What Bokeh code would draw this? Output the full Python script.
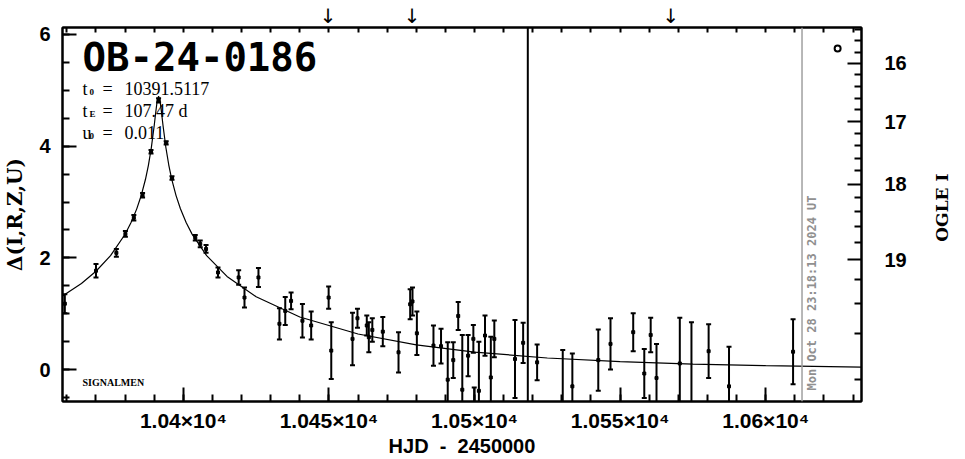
import math
from bokeh.plotting import figure
from bokeh.models import (Range1d, LinearAxis, FixedTicker, SingleIntervalTicker,
                          CustomJSTickFormatter, Label, Span)
from bokeh.embed import file_html
from bokeh.resources import INLINE

# ---------------- data ----------------
hjd = [10359.3, 10370.0, 10377.0, 10380.1, 10383.0, 10386.0, 10388.9, 10391.5, 10394.1, 10396.1,
       10404.1, 10405.8, 10407.8, 10411.9, 10419.0, 10421.0, 10425.8, 10433.0, 10435.0, 10437.0,
       10440.9, 10443.9, 10449.9, 10450.8, 10458.1, 10459.8, 10463.0, 10463.7, 10464.9, 10468.5,
       10473.9, 10477.9, 10478.7, 10480.2, 10485.9, 10488.5, 10490.8, 10492.7, 10494.4, 10495.8,
       10497.8, 10499.6, 10499.9, 10501.5, 10503.6, 10505.6, 10506.8, 10513.9, 10516.7, 10521.5,
       10530.3, 10533.6, 10542.5, 10546.7, 10554.5, 10558.3, 10560.5, 10562.5, 10570.5, 10574.5,
       10580.4, 10587.4, 10609.4]
delta = [1.18, 1.77, 2.09, 2.43, 2.72, 3.12, 3.90, 4.82, 4.06, 3.43,
         2.36, 2.25, 2.16, 1.74, 1.65, 1.29, 1.65, 0.82, 1.05, 1.23,
         0.875, 0.79, 1.29, 0.34, 0.55, 0.92, 0.79, 0.58, 0.71, 0.68,
         0.31, 1.17, 1.22, 0.65, 0.43, 0.42, -0.18, 0.17, 0.96, -0.36,
         0.25, 0.55, -0.80, -0.38, 0.61, -0.14, 0.55, 0.19, 0.48, 0.13,
         -0.60, -0.30, 0.17, 0.46, 0.67, -0.07, 0.62, -0.15, 0.11, -0.60,
         0.33, -0.30, 0.32]
err = [0.17, 0.12, 0.07, 0.05, 0.05, 0.04, 0.03, 0.04, 0.03, 0.03,
       0.05, 0.06, 0.07, 0.09, 0.13, 0.18, 0.17, 0.28, 0.25, 0.15,
       0.30, 0.25, 0.20, 0.51, 0.47, 0.17, 0.18, 0.27, 0.21, 0.26,
       0.36, 0.27, 0.25, 0.39, 0.36, 0.31, 0.67, 0.32, 0.25, 0.98,
       0.37, 0.25, 0.48, 0.88, 0.36, 0.73, 0.33, 0.70, 0.36, 0.32,
       0.95, 0.59, 0.55, 0.46, 0.34, 0.44, 0.31, 0.61, 0.82, 1.45,
       0.48, 0.71, 0.58]

model_hjd = [10358.5, 10365, 10370, 10375, 10380, 10382, 10384, 10385.5, 10387, 10388,
             10389, 10390, 10390.5, 10391, 10391.5, 10392, 10392.5, 10393, 10394, 10395,
             10396, 10397.5, 10399, 10401, 10403, 10408, 10415, 10425, 10440, 10460,
             10480, 10500, 10525, 10550, 10575, 10600, 10632.9]
model_delta = [1.318, 1.543, 1.761, 2.040, 2.424, 2.628, 2.878, 3.112, 3.408, 3.657,
               3.971, 4.371, 4.599, 4.804, 4.897, 4.811, 4.608, 4.380, 3.977, 3.663,
               3.412, 3.115, 2.881, 2.630, 2.426, 2.042, 1.669, 1.304, 0.942, 0.637,
               0.444, 0.314, 0.208, 0.142, 0.098, 0.070, 0.046]

extra_hjd = [10624.7]
extra_delta = [5.75]

ogle_labels = ["16", "17", "18", "19"]
ogle_major_delta = [5.481, 4.439, 3.323, 1.964]
ogle_minor_delta = [6.093, 5.890, 5.686, 5.276, 5.069, 4.860, 4.651, 4.224, 4.006, 3.784,
                    3.556, 3.083, 2.831, 2.564, 2.278, 1.611, 1.191, 0.653, -0.179]
ogle_title = "OGLE I"
ogle_title_delta = 2.29

top_minor_hjd = [10360, 10370, 10380, 10390, 10400, 10410, 10420, 10430, 10440, 10450,
                 10460, 10470, 10480, 10490, 10500, 10510, 10520, 10530, 10540, 10550,
                 10560, 10570, 10580, 10590, 10600, 10610, 10620, 10630]
arrow_hjd = [10449.7, 10478.6, 10567.4]
black_line_hjd = 10518.3
date_line_hjd = 10612.47

title = "OB-24-0186"
t0_text = "10391.5117"
tE_text = "107.47 d"
u0_text = "0.011"
date_text = "Mon Oct 28 23:18:13 2024 UT"
x_title = "HJD\u00a0\u00a0-\u00a0\u00a02450000"
y_title = "\u0394(I,R,Z,U)"

x_lo, x_hi = 10358.5, 10632.9
y_lo, y_hi = -0.571, 6.125

# ---------------- figure ----------------
p = figure(width=965, height=459, x_range=Range1d(x_lo, x_hi), y_range=Range1d(y_lo, y_hi),
           output_backend="svg", toolbar_location=None,
           x_axis_location=None, y_axis_location=None,
           min_border_left=62, min_border_right=103, min_border_top=26, min_border_bottom=58)
p.grid.visible = False
p.outline_line_color = "black"
p.outline_line_width = 2
p.background_fill_color = "white"
p.border_fill_color = "white"

TICK_FONT = "Liberation Sans"


def style_axis(ax):
    ax.axis_line_width = 2
    ax.axis_line_color = "black"
    ax.major_tick_line_width = 2
    ax.minor_tick_line_width = 2
    ax.major_tick_in = 14
    ax.major_tick_out = 0
    ax.minor_tick_in = 7
    ax.minor_tick_out = 0
    ax.major_label_text_font = TICK_FONT
    ax.major_label_text_font_style = "bold"
    ax.major_label_text_font_size = "20px"
    ax.major_label_text_color = "black"
    ax.axis_label_text_color = "black"
    ax.axis_label_text_font_style = "bold"


xb = LinearAxis(ticker=SingleIntervalTicker(interval=50, num_minor_ticks=5),
                formatter=CustomJSTickFormatter(code="return (tick/1e4).toString() + '\u00d710\u2074';"))
style_axis(xb)
xb.major_label_text_font_size = "21px"
xb.major_label_standoff = 7
xb.axis_label = x_title
xb.axis_label_text_font = "Liberation Sans"
xb.axis_label_text_font_size = "20px"
xb.axis_label_standoff = 0
p.add_layout(xb, "below")

# top axis: short ticks every 10 d, plus the down arrows as labels
xt = LinearAxis(ticker=FixedTicker(ticks=arrow_hjd, minor_ticks=top_minor_hjd),
                formatter=CustomJSTickFormatter(code="return '\u2193';"))
style_axis(xt)
xt.major_tick_in = 0
xt.minor_tick_in = 5
xt.major_label_standoff = 0
xt.major_label_text_font = "DejaVu Sans"
xt.major_label_text_font_style = "normal"
xt.major_label_text_font_size = "20px"
p.add_layout(xt, "above")

yl = LinearAxis(ticker=SingleIntervalTicker(interval=2, num_minor_ticks=4))
style_axis(yl)
yl.major_label_standoff = 12
yl.axis_label = y_title
yl.axis_label_text_font = "DejaVu Serif"
yl.axis_label_text_font_size = "20px"
yl.axis_label_standoff = 9
p.add_layout(yl, "left")

yr = LinearAxis(ticker=FixedTicker(ticks=ogle_major_delta, minor_ticks=ogle_minor_delta),
                formatter=CustomJSTickFormatter(
                    args=dict(tv=ogle_major_delta, tl=ogle_labels),
                    code="for (let i = 0; i < tv.length; i++) { if (Math.abs(tick - tv[i]) < 1e-6) return tl[i]; } return '';"))
style_axis(yr)
yr.major_label_standoff = 23
p.add_layout(yr, "right")

# outer right "axis" only carrying the OGLE I title, reading bottom to top
yr2 = LinearAxis(ticker=FixedTicker(ticks=[ogle_title_delta], minor_ticks=[]),
                 formatter=CustomJSTickFormatter(args=dict(t=ogle_title), code="return t;"))
yr2.axis_line_color = None
yr2.major_tick_line_color = None
yr2.minor_tick_line_color = None
yr2.major_tick_in = 0
yr2.major_tick_out = 0
yr2.minor_tick_in = 0
yr2.minor_tick_out = 0
yr2.major_label_orientation = math.pi / 2
yr2.major_label_standoff = 33
yr2.major_label_text_font = "DejaVu Serif"
yr2.major_label_text_font_style = "bold"
yr2.major_label_text_font_size = "17px"
yr2.major_label_text_color = "black"
p.add_layout(yr2, "right")

# vertical lines
p.add_layout(Span(location=black_line_hjd, dimension="height", line_color="black", line_width=2))
p.add_layout(Span(location=date_line_hjd, dimension="height", line_color="#a0a0a0", line_width=1.5))

# model curve
p.line(model_hjd, model_delta, line_color="black", line_width=1.2)

# data with error bars
lo = [d - e for d, e in zip(delta, err)]
hi = [d + e for d, e in zip(delta, err)]
p.segment(x0=hjd, y0=lo, x1=hjd, y1=hi, line_color="black", line_width=2)
p.scatter(hjd + hjd, lo + hi, marker="dash", size=5, line_color="black", line_width=2)
p.scatter(hjd, delta, marker="square", size=3, fill_color="black", line_color="black")

p.scatter(extra_hjd, extra_delta, marker="circle", size=6, fill_color="white",
          line_color="black", line_width=2)

# date label along the grey line
p.add_layout(Label(x=date_line_hjd, y=11, x_units="data", y_units="screen", x_offset=3,
                   text=date_text, angle=90, angle_units="deg", text_align="left",
                   text_baseline="top", text_font="DejaVu Sans Mono", text_font_style="bold",
                   text_font_size="12px", text_color="#909090"))

# title and parameter texts
SERIF = "Liberation Serif"
p.add_layout(Label(x=20, y=344, x_units="screen", y_units="screen", text=title,
                   text_font="DejaVu Sans Mono", text_font_style="bold", text_font_size="39px",
                   text_baseline="alphabetic", text_color="black"))
rows = [("t", "0", t0_text, 313), ("t", "E", tE_text, 291), ("u", "0", u0_text, 269)]
for main, sub, val, yy in rows:
    p.add_layout(Label(x=20, y=yy, x_units="screen", y_units="screen", text=main,
                       text_font=SERIF, text_font_size="18px", text_baseline="alphabetic",
                       text_color="black"))
    p.add_layout(Label(x=27, y=yy - 3, x_units="screen", y_units="screen", text=sub,
                       text_font=SERIF, text_font_style="bold", text_font_size="9px",
                       text_baseline="alphabetic", text_color="black"))
    p.add_layout(Label(x=40, y=yy, x_units="screen", y_units="screen", text="=",
                       text_font=SERIF, text_font_size="18px", text_baseline="alphabetic",
                       text_color="black"))
    p.add_layout(Label(x=62, y=yy, x_units="screen", y_units="screen", text=val,
                       text_font=SERIF, text_font_size="18px", text_baseline="alphabetic",
                       text_color="black"))

p.add_layout(Label(x=20, y=19, x_units="screen", y_units="screen", text="SIGNALMEN",
                   text_font=SERIF, text_font_style="bold", text_font_size="10px",
                   text_baseline="alphabetic", text_color="black"))

open("out.html", "w").write(file_html(p, INLINE))
